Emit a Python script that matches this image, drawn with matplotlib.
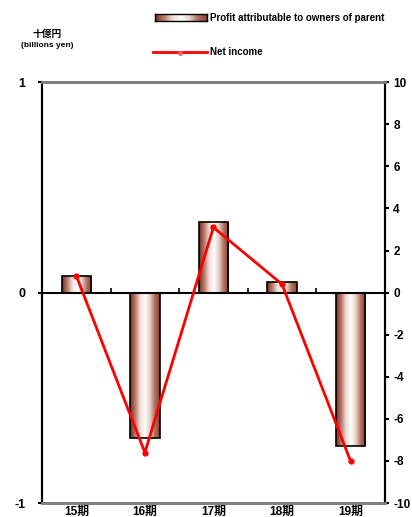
import numpy as np
import matplotlib
matplotlib.use("Agg")
import matplotlib.pyplot as plt
from matplotlib.colors import LinearSegmentedColormap
from matplotlib.patches import Rectangle
from matplotlib.lines import Line2D

plt.rcParams['font.family'] = ['Liberation Sans', 'Noto Sans CJK JP']
plt.rcParams['font.weight'] = 'bold'

# data
periods = ['15期', '16期', '17期', '18期', '19期']
profit_parent = [0.08, -0.69, 0.335, 0.05, -0.73]   # left axis, 十億円
net_income = [0.8, -7.6, 3.1, 0.4, -8.0]            # right axis

bar_cmap = LinearSegmentedColormap.from_list(
    'cyl', ['#7a3020', '#b87868', '#f0dcd6', '#ffffff', '#e8d0c8', '#b07060', '#8a4232'])
grad = np.linspace(0, 1, 64).reshape(1, -1)

fig = plt.figure(figsize=(4.12, 5.17), dpi=100)
ax = fig.add_axes([0.102, 0.027, 0.832, 0.814])
ax2 = ax.twinx()

x = np.arange(1, len(periods) + 1)
width = 0.43

# cylinder-looking bars
for xi, v in zip(x, profit_parent):
    ax.imshow(grad, cmap=bar_cmap, aspect='auto', extent=[xi - width / 2, xi + width / 2, 0, v],
              zorder=2, interpolation='bicubic')
    ax.add_patch(Rectangle((xi - width / 2, 0), width, v, fill=False, edgecolor='black', lw=1.2, zorder=3))

ax.axhline(0, color='black', lw=1.5, zorder=4)
ax.vlines(x[:-1] + 0.5, 0, 0.02, color='black', lw=1.2, zorder=4)

ax.set_xlim(0.5, len(periods) + 0.5)
ax.set_ylim(-1, 1)
ax.set_yticks([-1, 0, 1])
ax.set_yticklabels(['-1', '0', '1'], fontsize=9, fontweight='bold')
ax.set_xticks(x)
ax.set_xticklabels(periods, fontsize=8.5, fontweight='bold')
ax.tick_params(axis='x', length=0, pad=2)
ax.tick_params(axis='y', length=3, width=1.5, pad=9)

ax2.plot(x, net_income, color='#ff0000', lw=2, marker='o', markersize=3.5, zorder=5)
ax2.set_ylim(-10, 10)
ax2.set_yticks(range(-10, 11, 2))
ax2.set_yticklabels([str(t) for t in range(-10, 11, 2)], fontsize=8.5, fontweight='bold')
ax2.tick_params(axis='y', length=3, width=1.5, pad=3)

for a in (ax, ax2):
    a.spines['top'].set_color('#808080')
    a.spines['bottom'].set_color('#808080')
    a.spines['top'].set_linewidth(2)
    a.spines['bottom'].set_linewidth(2)
    a.spines['left'].set_linewidth(1.5)
    a.spines['right'].set_linewidth(1.5)

# unit label
fig.text(0.115, 0.935, '十億円', fontsize=7, fontweight='bold', ha='center', va='center')
fig.text(0.115, 0.912, '(billions yen)', fontsize=6, fontweight='bold', ha='center', va='center')

# legend drawn by hand above the plot
lax = fig.add_axes([0.376, 0.960, 0.126, 0.012])
lax.imshow(grad, cmap=bar_cmap, aspect='auto', interpolation='bicubic')
lax.set_xticks([])
lax.set_yticks([])
for s in lax.spines.values():
    s.set_linewidth(1)
fig.text(0.51, 0.966, 'Profit attributable to owners of parent', fontsize=7, fontweight='bold', va='center')

fig.add_artist(Line2D([0.371, 0.502], [0.899, 0.899], color='#ff0000', lw=2))
fig.add_artist(Line2D([0.437], [0.897], color='#ff6060', marker='o', markersize=2.5))
fig.text(0.51, 0.899, 'Net income', fontsize=7, fontweight='bold', va='center')

fig.savefig('out.png', dpi=100)
